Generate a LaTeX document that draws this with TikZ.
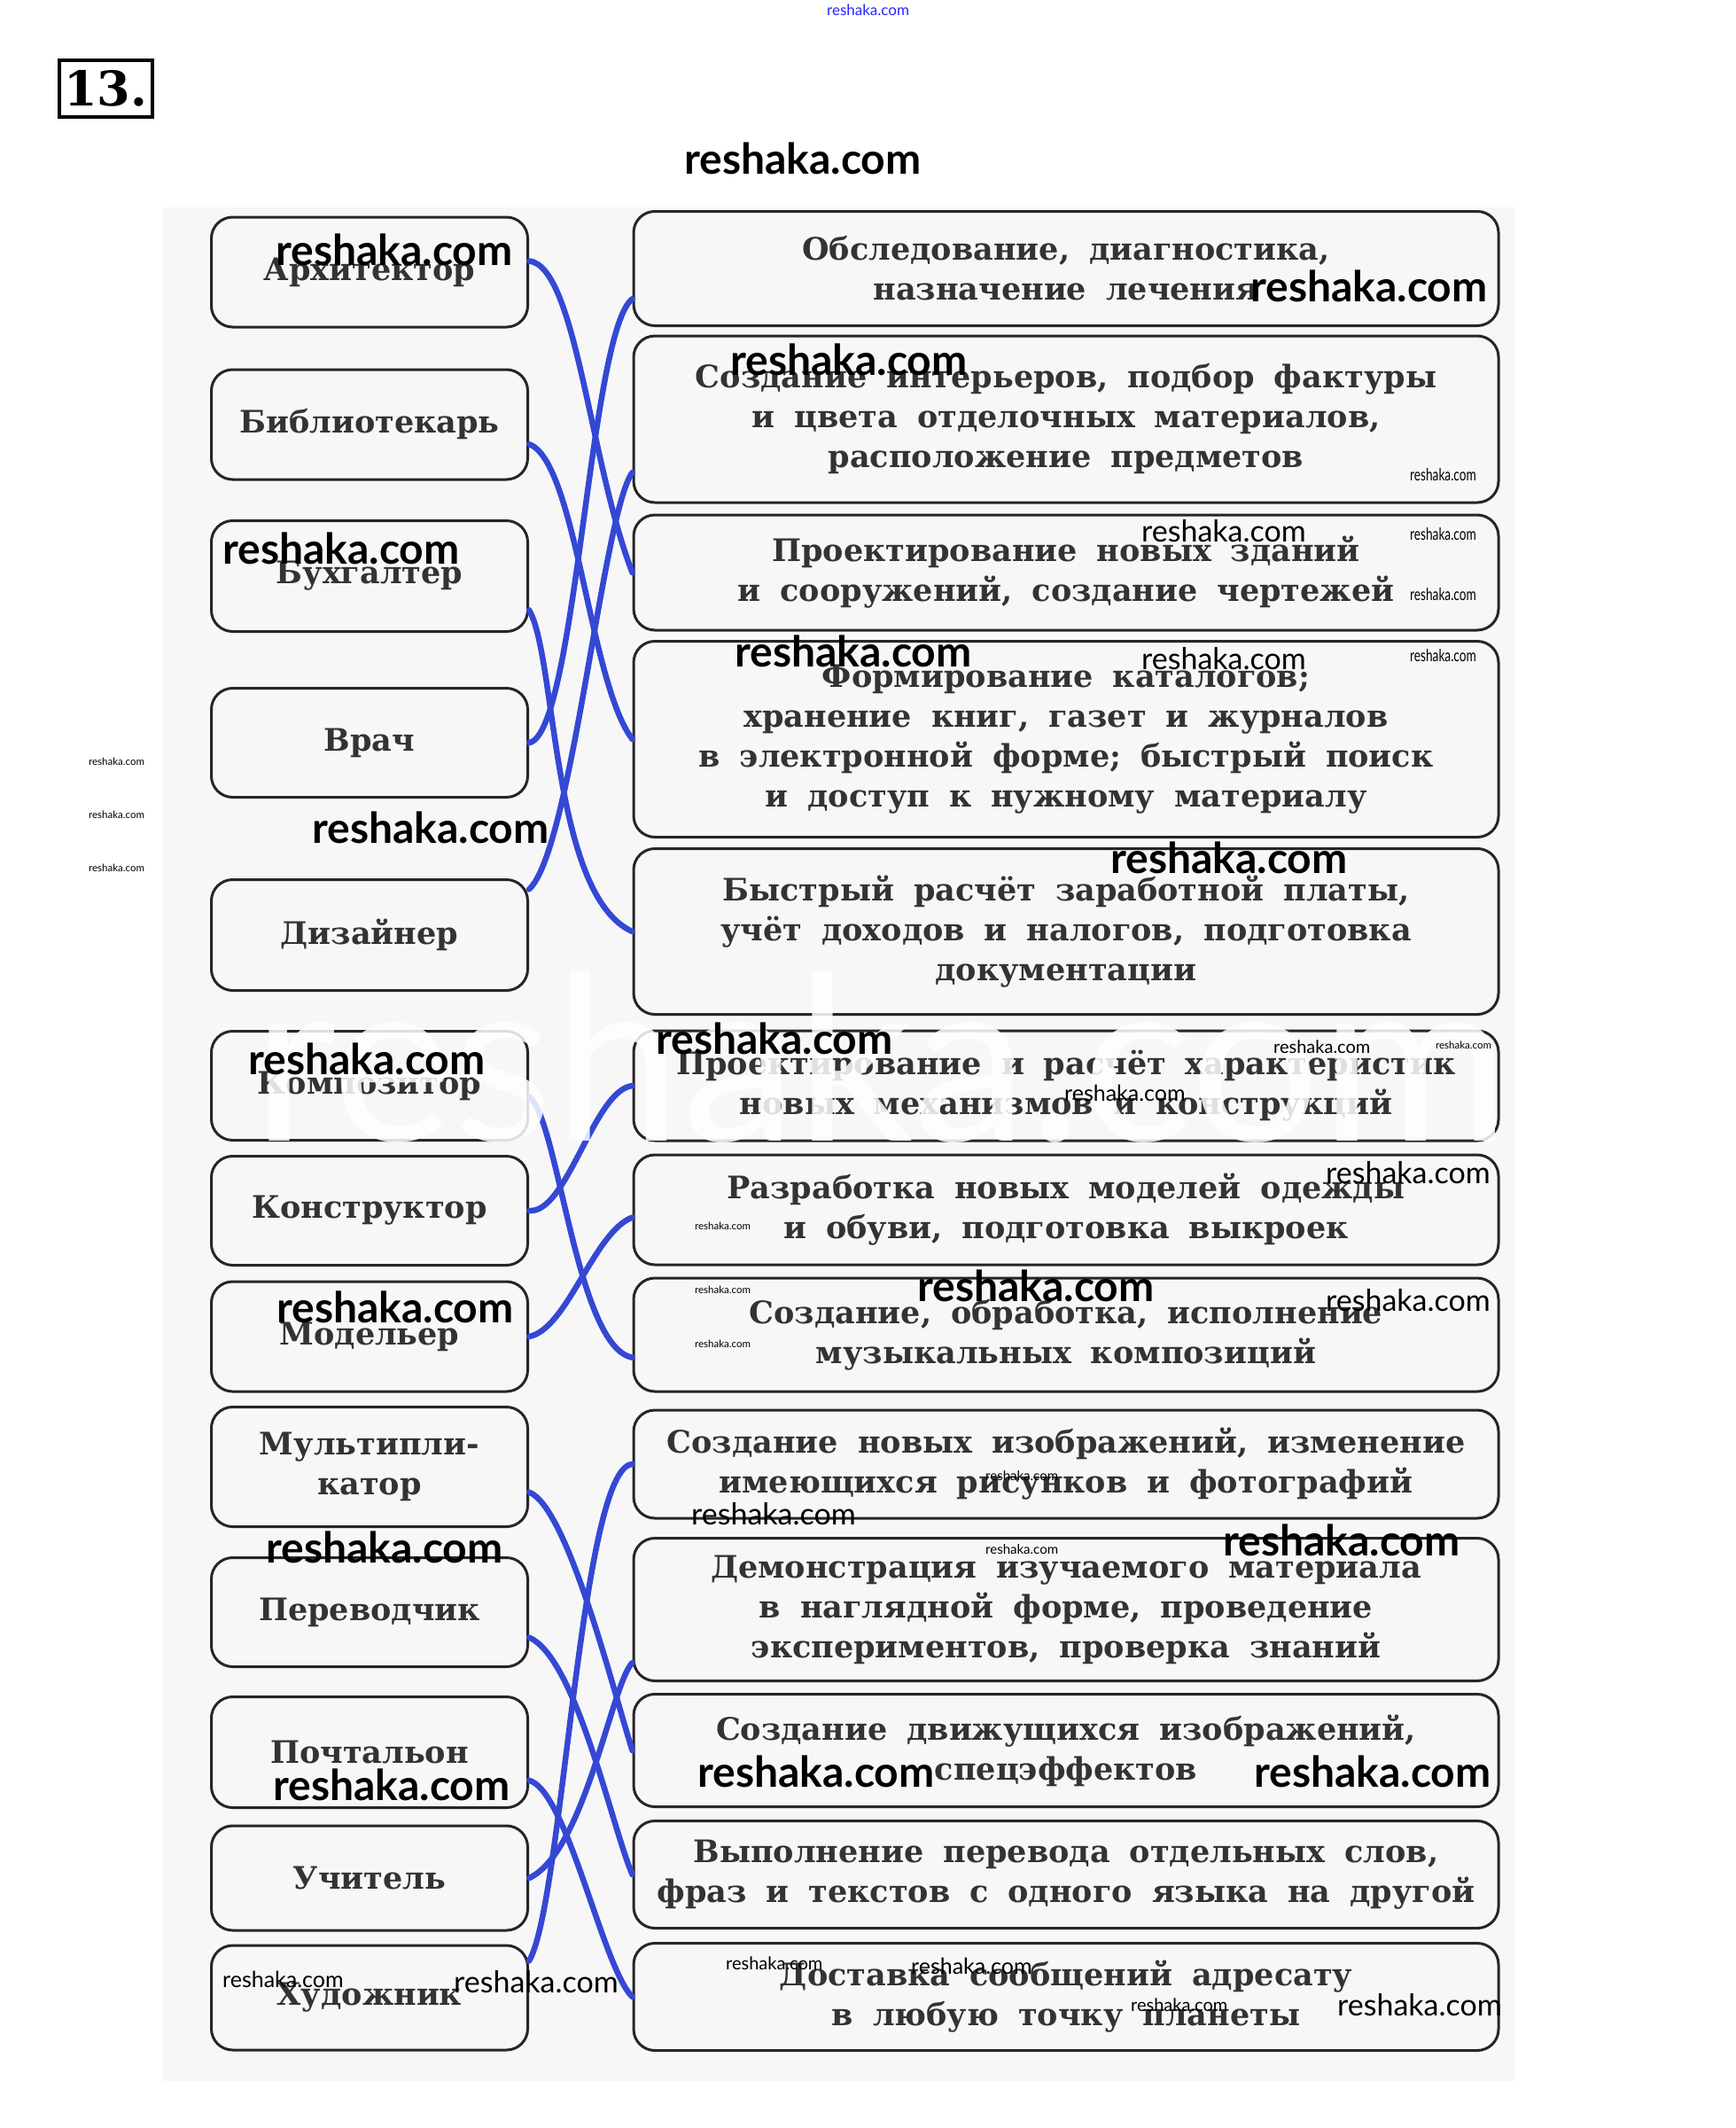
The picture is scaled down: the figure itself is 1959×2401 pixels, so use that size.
\documentclass[tikz,border=0pt]{standalone}
\usepackage{fontspec}
\newfontfamily\boxfont{DejaVu Serif}[WordSpace=1.8]
\newfontfamily\wmfont{Lato}

\definecolor{pen}{RGB}{52,72,212}
\definecolor{paper}{RGB}{247,247,247}

\tikzset{
  job/.style={draw=black!85, line width=3pt, rounded corners=24pt,
    minimum width=357pt, minimum height=#1, align=center, inner sep=0pt,
    text=black!80, font=\boxfont\bfseries\fontsize{35}{45}\selectfont},
  job/.default=124pt,
  work/.style={job=#1, minimum width=976pt},
  work/.default=124pt,
  link/.style={draw=pen, line width=6.5pt, line cap=round},
  wmL/.style={anchor=west, inner sep=0pt, font=\wmfont\bfseries\fontsize{48}{48}\selectfont},
  wmM/.style={anchor=west, inner sep=0pt, font=\wmfont\fontsize{34}{34}\selectfont},
  wmS/.style={anchor=west, inner sep=0pt, font=\wmfont\fontsize{#1}{#1}\selectfont},
}

\begin{document}
\begin{tikzpicture}[x=1pt,y=-1pt]
\useasboundingbox (0,0) rectangle (1959,2401);
\fill[paper] (184,234) rectangle (1709,2348);

\node[draw, line width=4pt, minimum width=105pt, minimum height=64pt, inner sep=0pt,
  font=\boxfont\bfseries\fontsize{54}{54}\selectfont] (num) at (119,100) {13.};

% professions
\node[job] (arch) at (417,307) {Архитектор};
\node[job] (libr) at (417,479) {Библиотекарь};
\node[job=125pt] (acct) at (417,650) {Бухгалтер};
\node[job=123pt] (doc) at (417,838) {Врач};
\node[job=125pt] (dsgn) at (417,1055) {Дизайнер};
\node[job=123pt] (comp) at (417,1225) {Композитор};
\node[job=123pt] (constr) at (417,1366) {Конструктор};
\node[job] (modl) at (417,1508) {Модельер};
\node[job=135pt] (anim) at (417,1655) {Мультипли-\\катор};
\node[job=123pt] (transl) at (417,1819) {Переводчик};
\node[job=125pt] (post) at (417,1977) {Почтальон};
\node[job=118pt] (teach) at (417,2119) {Учитель};
\node[job=118pt] (artist) at (417,2254) {Художник};

% what they do
\node[work=129pt] (tExam) at (1203,303) {Обследование, диагностика,\\назначение лечения};
\node[work=188pt] (tInter) at (1203,473) {Создание интерьеров, подбор фактуры\\и цвета отделочных материалов,\\расположение предметов};
\node[work=130pt] (tBuild) at (1203,646) {Проектирование новых зданий\\и сооружений, создание чертежей};
\node[work=221pt] (tCatal) at (1203,834) {Формирование каталогов;\\хранение книг, газет и журналов\\в электронной форме; быстрый поиск\\и доступ к нужному материалу};
\node[work=187pt] (tSalary) at (1203,1051) {Быстрый расчёт заработной платы,\\учёт доходов и налогов, подготовка\\документации};
\node[work] (tMech) at (1203,1225) {Проектирование и расчёт характеристик\\новых механизмов и конструкций};
\node[work] (tCloth) at (1203,1365) {Разработка новых моделей одежды\\и обуви, подготовка выкроек};
\node[work=128pt] (tMusic) at (1203,1506) {Создание, обработка, исполнение\\музыкальных композиций};
\node[work=122pt] (tImage) at (1203,1652) {Создание новых изображений, изменение\\имеющихся рисунков и фотографий};
\node[work=161pt] (tDemo) at (1203,1816) {Демонстрация изучаемого материала\\в наглядной форме, проведение\\экспериментов, проверка знаний};
\node[work=127pt] (tMotion) at (1203,1975) {Создание движущихся изображений,\\спецэффектов};
\node[work=121pt] (tTransl) at (1203,2115) {Выполнение перевода отдельных слов,\\фраз и текстов с одного языка на другой};
\node[work=121pt] (tPost) at (1203,2253) {Доставка сообщений адресату\\в любую точку планеты};

% answers
\draw[link] (arch.4) .. controls (650,300) and (665,520) .. (tBuild.west);
\draw[link] (libr.-7) .. controls (650,520) and (665,770) .. (tCatal.west);
\draw[link] (acct.-12) .. controls (628,740) and (622,1010) .. (tSalary.west);
\draw[link] (doc.east) .. controls (650,830) and (665,375) .. (tExam.184);
\draw[link] (dsgn.16) .. controls (645,960) and (680,580) .. (tInter.187);
\draw[link] (comp.-4) .. controls (630,1260) and (650,1520) .. (tMusic.183);
\draw[link] (constr.east) .. controls (640,1370) and (670,1230) .. (tMech.west);
\draw[link] (modl.east) .. controls (640,1500) and (670,1390) .. (tCloth.181);
\draw[link] (anim.-9) .. controls (640,1700) and (690,1900) .. (tMotion.west);
\draw[link] (transl.-9) .. controls (650,1870) and (690,2060) .. (tTransl.west);
\draw[link] (post.-10) .. controls (640,2020) and (680,2220) .. (tPost.west);
\draw[link] (teach.east) .. controls (660,2090) and (690,1900) .. (tDemo.187);
\draw[link] (artist.13) .. controls (635,2150) and (655,1655) .. (tImage.west);

% white ghost over the middle
\node[text=white, text opacity=0.85, anchor=base west, inner sep=0pt,
  font=\wmfont\fontsize{260}{260}\selectfont] (ghost) at (285,1287) {reshaka.com};

% watermarks
\node[wmS=17, text=blue!85] (w44) at (933,11) {reshaka.com};
\node[wmL] (w1) at (772,179) {reshaka.com};
\node[wmL] (w2) at (311,282) {reshaka.com};
\node[wmL] (w3) at (1411,323) {reshaka.com};
\node[wmL] (w4) at (824,406) {reshaka.com};
\node[wmL] (w5) at (251,619) {reshaka.com};
\node[wmL] (w6) at (829,735) {reshaka.com};
\node[wmL] (w7) at (352,934) {reshaka.com};
\node[wmL] (w8) at (1253,968) {reshaka.com};
\node[wmL] (w9) at (740,1172) {reshaka.com};
\node[wmL] (w10) at (280,1195) {reshaka.com};
\node[wmL] (w11) at (1035,1451) {reshaka.com};
\node[wmL] (w12) at (312,1475) {reshaka.com};
\node[wmL] (w13) at (300,1746) {reshaka.com};
\node[wmL] (w14) at (1380,1738) {reshaka.com};
\node[wmL] (w15) at (787,1999) {reshaka.com};
\node[wmL] (w16) at (1415,1999) {reshaka.com};
\node[wmL] (w17) at (308,2014) {reshaka.com};
\node[wmM] (w18) at (1288,599) {reshaka.com};
\node[wmM] (w19) at (1288,743) {reshaka.com};
\node[wmM] (w20) at (1496,1323) {reshaka.com};
\node[wmM] (w21) at (1496,1467) {reshaka.com};
\node[wmM] (w22) at (780,1708) {reshaka.com};
\node[wmM] (w23) at (1509,2262) {reshaka.com};
\node[wmM] (w24) at (512,2236) {reshaka.com};
\node[wmS=25] (w25) at (1201,1233) {reshaka.com};
\node[wmS=25] (w26) at (1028,2218) {reshaka.com};
\node[wmS=25] (w27) at (251,2233) {reshaka.com};
\node[wmS=20] (w28) at (1437,1181) {reshaka.com};
\node[wmS=20] (w29) at (819,2215) {reshaka.com};
\node[wmS=20] (w30) at (1276,2262) {reshaka.com};
\node[wmS=19] (w31) at (1591,536) {\scalebox{0.72}[1]{reshaka.com}};
\node[wmS=19] (w32) at (1591,603) {\scalebox{0.72}[1]{reshaka.com}};
\node[wmS=19] (w33) at (1591,671) {\scalebox{0.72}[1]{reshaka.com}};
\node[wmS=19] (w34) at (1591,740) {\scalebox{0.72}[1]{reshaka.com}};
\node[wmS=15] (w35) at (1112,1665) {reshaka.com};
\node[wmS=15] (w36) at (1112,1748) {reshaka.com};
\node[wmS=11.5] (w37) at (100,859) {reshaka.com};
\node[wmS=11.5] (w38) at (100,919) {reshaka.com};
\node[wmS=11.5] (w39) at (100,979) {reshaka.com};
\node[wmS=11.5] (w40) at (784,1383) {reshaka.com};
\node[wmS=11.5] (w41) at (784,1455) {reshaka.com};
\node[wmS=11.5] (w42) at (784,1516) {reshaka.com};
\node[wmS=11.5] (w43) at (1620,1179) {reshaka.com};
\end{tikzpicture}
\end{document}
